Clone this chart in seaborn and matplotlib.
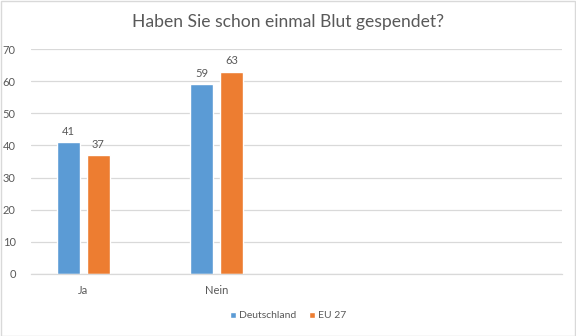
import matplotlib
matplotlib.use("Agg")
import matplotlib.pyplot as plt
import seaborn as sns
import pandas as pd
from matplotlib.patches import Rectangle

categories = ["Ja", "Nein"]
series_names = ["Deutschland", "EU 27"]
deutschland = [41, 59]
eu27 = [37, 63]
yticks = [0, 10, 20, 30, 40, 50, 60, 70]
title = "Haben Sie schon einmal Blut gespendet?"

colors = ["#5B9BD5", "#ED7D31"]
txt = "#595959"

df = pd.DataFrame({
    "cat": categories * 2,
    "series": [series_names[0]] * 2 + [series_names[1]] * 2,
    "val": deutschland + eu27,
})

sns.set_theme(style="white")
plt.rcParams["font.family"] = ["Lato", "DejaVu Sans"]

fig = plt.figure(figsize=(5.76, 3.36), dpi=100)
ax = fig.add_axes([31/576, 1-274/336, (562-31)/576, (274-49)/336])

sns.barplot(data=df, x="cat", y="val", hue="series", order=categories,
            hue_order=series_names, palette=colors, width=0.45, gap=0.23,
            ax=ax, legend=False, saturation=1)

for cont in ax.containers:
    ax.bar_label(cont, fmt="%d", padding=4, fontsize=8, color=txt)

ax.set_xlim(-0.395, 3.6)
ax.set_ylim(0, 70)
ax.set_yticks(yticks)
ax.set_yticklabels([str(t) for t in yticks])
ax.yaxis.grid(True, color="#D9D9D9", linewidth=0.9)
ax.set_axisbelow(True)
for s in ["left", "right", "top"]:
    ax.spines[s].set_visible(False)
ax.spines["bottom"].set_color("#D9D9D9")
ax.spines["bottom"].set_linewidth(0.9)
ax.tick_params(axis="both", length=0, labelsize=8, colors=txt, pad=8)
ax.tick_params(axis="y", pad=11)
ax.set_xlabel("")
ax.set_ylabel("")

fig.text(0.5, 1-22/336, title, ha="center", va="center", fontsize=12.6, color=txt)

handles = [Rectangle((0, 0), 1, 1, facecolor=c) for c in colors]
fig.legend(handles, series_names, loc="center", bbox_to_anchor=(0.5, 1-316/336),
           ncol=2, frameon=False, fontsize=7.5, labelcolor=txt,
           handlelength=0.6, handleheight=0.6, handletextpad=0.3, columnspacing=1.2)

fig.patches.append(Rectangle((0.001, 0.001), 0.997, 0.997, transform=fig.transFigure,
                             fill=False, edgecolor="#D9D9D9", linewidth=1))

fig.savefig("out.png", dpi=100)
